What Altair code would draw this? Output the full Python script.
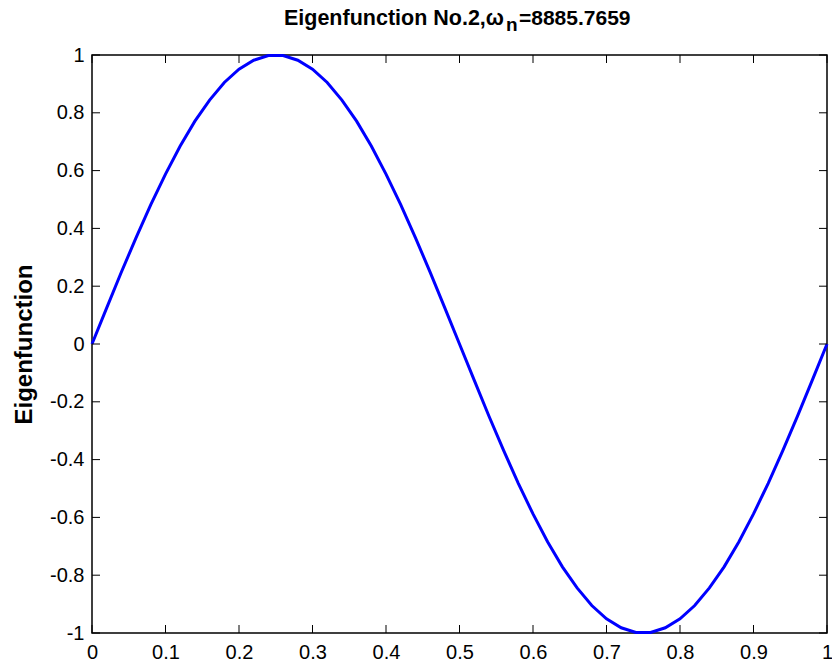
import altair as alt
import pandas as pd

# Values
x_vals = [0.00, 0.02, 0.04, 0.06, 0.08, 0.10, 0.12, 0.14, 0.16, 0.18,
          0.20, 0.22, 0.24, 0.26, 0.28, 0.30, 0.32, 0.34, 0.36, 0.38,
          0.40, 0.42, 0.44, 0.46, 0.48, 0.50, 0.52, 0.54, 0.56, 0.58,
          0.60, 0.62, 0.64, 0.66, 0.68, 0.70, 0.72, 0.74, 0.76, 0.78,
          0.80, 0.82, 0.84, 0.86, 0.88, 0.90, 0.92, 0.94, 0.96, 0.98, 1.00]
y_vals = [0.000, 0.125, 0.249, 0.368, 0.482, 0.588, 0.685, 0.771, 0.844, 0.905,
          0.951, 0.982, 0.998, 0.998, 0.982, 0.951, 0.905, 0.844, 0.771, 0.685,
          0.588, 0.482, 0.368, 0.249, 0.125, 0.000, -0.125, -0.249, -0.368, -0.482,
          -0.588, -0.685, -0.771, -0.844, -0.905, -0.951, -0.982, -0.998, -0.998, -0.982,
          -0.951, -0.905, -0.844, -0.771, -0.685, -0.588, -0.482, -0.368, -0.249, -0.125, 0.000]

x_ticks = [0, 0.1, 0.2, 0.3, 0.4, 0.5, 0.6, 0.7, 0.8, 0.9, 1]
y_ticks = [-1, -0.8, -0.6, -0.4, -0.2, 0, 0.2, 0.4, 0.6, 0.8, 1]

title_main = "Eigenfunction No.2,ω"
title_sub = "n"
title_rest = "=8885.7659"
y_title = "Eigenfunction"

W, H = 735, 578
FONT = "Liberation Sans"
TL = 8

df = pd.DataFrame({"x": x_vals, "y": y_vals})
dfx = pd.DataFrame({"x": x_ticks})
dfy = pd.DataFrame({"y": y_ticks})

xscale = alt.Scale(domain=[0, 1], nice=False, zero=False)
yscale = alt.Scale(domain=[-1, 1], nice=False, zero=False)

xaxis = alt.Axis(
    values=x_ticks, title=None, ticks=False, domain=False, grid=False,
    labelFont=FONT, labelFontSize=20, labelColor="black", labelPadding=9,
    labelFlush=False, labelOverlap=False,
    labelExpr="'' + datum.value")
yaxis = alt.Axis(
    values=y_ticks, title=y_title, ticks=False, domain=False, grid=False,
    labelFont=FONT, labelFontSize=20, labelColor="black", labelPadding=8,
    labelFlush=False, labelOverlap=False,
    labelExpr="'' + datum.value",
    titleFont=FONT, titleFontSize=24, titleFontWeight="bold",
    titleColor="black", titlePadding=13)

line = alt.Chart(df).mark_line(color="#0000ff", strokeWidth=3).encode(
    x=alt.X("x:Q", scale=xscale, axis=xaxis),
    y=alt.Y("y:Q", scale=yscale, axis=yaxis),
)

tick_style = dict(color="black", strokeWidth=1)
xt_bottom = alt.Chart(dfx).mark_rule(**tick_style).encode(
    x=alt.X("x:Q", scale=xscale, axis=xaxis), y=alt.value(H), y2=alt.value(H - TL))
xt_top = alt.Chart(dfx).mark_rule(**tick_style).encode(
    x=alt.X("x:Q", scale=xscale, axis=xaxis), y=alt.value(0), y2=alt.value(TL))
yt_left = alt.Chart(dfy).mark_rule(**tick_style).encode(
    y=alt.Y("y:Q", scale=yscale, axis=yaxis), x=alt.value(0), x2=alt.value(TL))
yt_right = alt.Chart(dfy).mark_rule(**tick_style).encode(
    y=alt.Y("y:Q", scale=yscale, axis=yaxis), x=alt.value(W), x2=alt.value(W - TL))

tstyle = dict(font=FONT, fontWeight="bold", color="black", baseline="alphabetic")
t1 = alt.Chart(pd.DataFrame({"s": [title_main]})).mark_text(
    align="right", fontSize=21.5, **tstyle).encode(
    x=alt.value(412), y=alt.value(-30), text="s:N")
t2 = alt.Chart(pd.DataFrame({"s": [title_sub]})).mark_text(
    align="left", fontSize=19, **tstyle).encode(
    x=alt.value(414), y=alt.value(-24), text="s:N")
t3 = alt.Chart(pd.DataFrame({"s": [title_rest]})).mark_text(
    align="left", fontSize=21, **tstyle).encode(
    x=alt.value(427), y=alt.value(-30), text="s:N")

chart = alt.layer(line, xt_bottom, xt_top, yt_left, yt_right, t1, t2, t3).properties(
    width=W, height=H,
    padding={"left": 92, "top": 55, "right": 5, "bottom": 36},
    autosize=alt.AutoSizeParams(type="none"),
    background="white",
).configure_view(stroke="black", strokeWidth=1.5)

chart.save("out.html", embed_options={"renderer": "svg", "actions": False})
